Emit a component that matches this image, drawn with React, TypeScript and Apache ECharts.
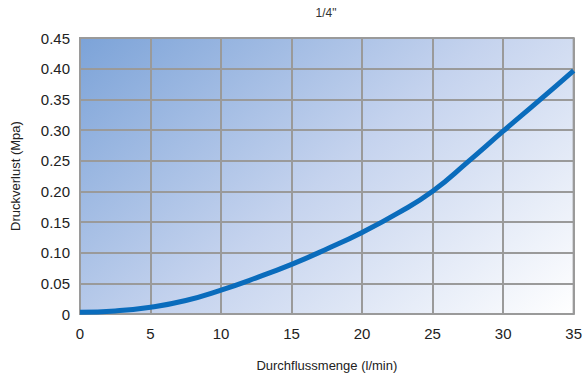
import React, { useEffect, useRef } from "react";
import * as echarts from "echarts";

const flowValues = [0, 2.5, 5, 7.5, 10, 12.5, 15, 17.5, 20, 22.5, 25, 27.5, 30, 32.5, 35];
const pressureValues = [0.003, 0.005, 0.011, 0.022, 0.039, 0.059, 0.081, 0.106, 0.133, 0.164, 0.2, 0.248, 0.298, 0.347, 0.397];
const title = '1/4"';
const xName = "Durchflussmenge (l/min)";
const yName = "Druckverlust (Mpa)";

export default function App() {
  const ref = useRef<HTMLDivElement>(null);
  useEffect(() => {
    const chart = echarts.init(ref.current!, null, { renderer: "svg" });
    chart.setOption({
      animation: false,
      title: {
        text: title,
        left: 321,
        top: 2,
        textAlign: "center",
        textStyle: { fontFamily: "Liberation Sans", fontSize: 12, fontWeight: "normal", color: "#333" },
      },
      grid: {
        left: 80,
        top: 38,
        right: 11,
        bottom: 63,
        show: true,
        borderColor: "#9a9a9a",
        borderWidth: 2,
        backgroundColor: new echarts.graphic.LinearGradient(0, 0, 1.154, 0.769, [
          { offset: 0, color: "#7ca3d8" },
          { offset: 0.5, color: "#c5d3ee" },
          { offset: 1, color: "#ffffff" },
        ]),
      },
      xAxis: {
        type: "value",
        min: 0,
        max: 35,
        interval: 5,
        name: xName,
        nameLocation: "middle",
        nameGap: 45,
        nameTextStyle: { fontFamily: "Liberation Sans", fontSize: 13, color: "#222" },
        axisLine: { show: true, lineStyle: { color: "#9a9a9a", width: 2 } },
        axisTick: { show: false },
        axisLabel: { fontFamily: "Liberation Sans", fontSize: 15, color: "#222", margin: 12 },
        splitLine: { show: true, lineStyle: { color: "#9a9a9a", width: 2 } },
      },
      yAxis: {
        type: "value",
        min: 0,
        max: 0.45,
        interval: 0.05,
        name: yName,
        nameLocation: "middle",
        nameGap: 58,
        nameTextStyle: { fontFamily: "Liberation Sans", fontSize: 13, color: "#222" },
        axisLine: { show: false },
        axisTick: { show: false },
        axisLabel: {
          fontFamily: "Liberation Sans",
          fontSize: 15,
          color: "#222",
          margin: 10,
          formatter: (v: number) => (v === 0 ? "0" : v.toFixed(2)),
        },
        splitLine: { show: true, lineStyle: { color: "#9a9a9a", width: 2 } },
      },
      series: [
        {
          type: "line",
          data: flowValues.map((x, i) => [x, pressureValues[i]]),
          smooth: true,
          showSymbol: false,
          lineStyle: { color: "#0a6cbc", width: 5 },
        },
      ],
    });
    return () => chart.dispose();
  }, []);
  return <div ref={ref} style={{ width: 585, height: 377, position: "absolute", left: 0, top: 0 }} />;
}
